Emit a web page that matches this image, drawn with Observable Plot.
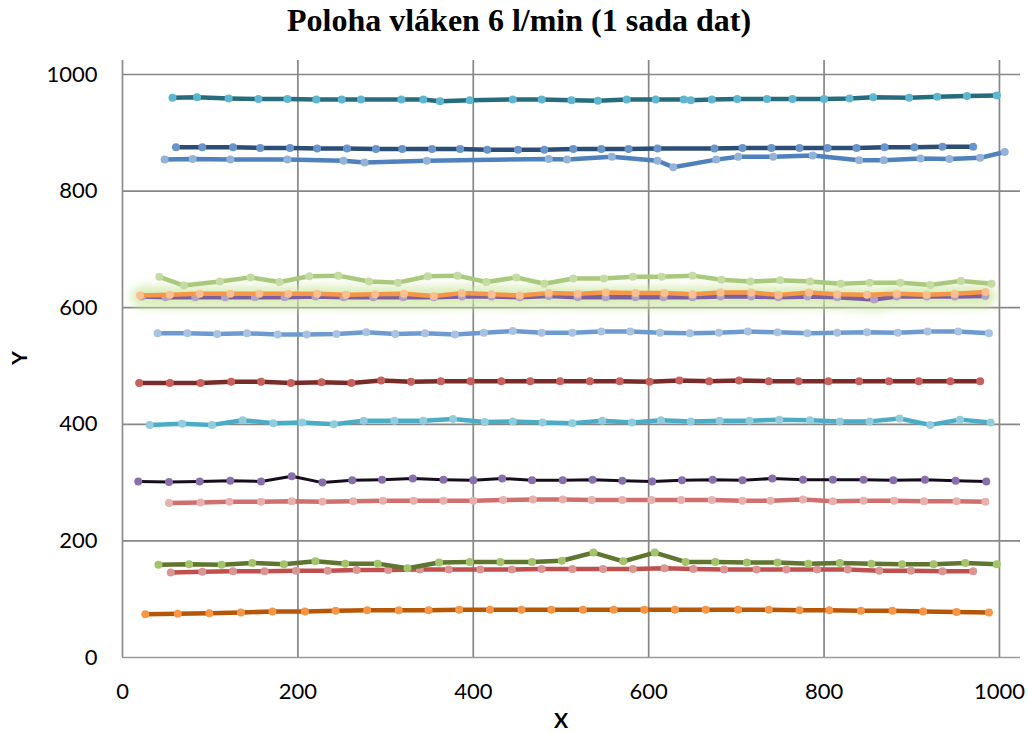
<!DOCTYPE html>
<html>
<head>
<meta charset="utf-8">
<script src="https://cdn.jsdelivr.net/npm/d3@7"></script>
<script src="https://cdn.jsdelivr.net/npm/@observablehq/plot@0.6"></script>
<style>
  body { margin: 0; background: #fff; }
  #title { height: 48px; box-sizing: border-box; padding-top: 4px; padding-left: 10px; line-height: 32px;
           text-align: center; font-family: "Liberation Serif", "Times New Roman", serif; font-weight: bold; font-size: 32px; color: #000; }
  #chart svg { display: block; }
</style>
</head>
<body>
<div id="title">Poloha vláken 6 l/min (1 sada dat)</div>
<div id="chart"></div>
<script>
// ---- data ----
const xTicks = [0, 200, 400, 600, 800, 1000];
const yTicks = [0, 200, 400, 600, 800, 1000];

const s1x = [57,85,121,155,188,221,250,272,318,343,362,396,445,478,512,542,575,608,640,648,672,701,735,764,800,829,856,897,929,963,997];
const s1y = [960,961,959,958,958,957,957,957,957,957,954,956,957,957,956,955,957,957,957,956,957,958,958,958,958,959,961,960,962,963,964];

const s2x = [61,91,126,157,191,222,256,289,319,353,385,416,451,481,514,546,577,610,675,707,740,772,804,837,869,903,935,970];
const s2y = [875,875,875,874,874,873,873,872,872,872,872,871,871,871,872,872,872,873,873,874,874,874,874,874,875,875,876,876];

const s3x = [48,80,123,188,252,276,347,486,507,558,610,628,677,702,742,787,840,868,910,943,978,1006];
const s3y = [854,855,854,854,852,849,852,855,854,859,852,841,854,859,859,861,853,853,856,855,857,867];

const s4x = [42,70,111,146,179,213,246,281,314,348,382,415,449,481,514,549,582,615,650,683,716,750,784,819,852,887,921,956,991];
const s4y = [653,638,645,652,644,654,655,645,643,654,655,644,652,641,650,650,653,653,655,648,645,647,645,641,643,643,639,646,641];

const s5x = [20,54,88,123,156,189,222,255,288,321,355,387,421,453,486,519,551,585,618,650,682,717,748,783,815,849,883,917,949,984];
const s5y = [621,622,624,624,624,624,624,622,623,624,620,625,623,621,625,624,626,625,625,623,626,626,622,626,623,622,624,622,624,627];

const s6x = [22,49,83,117,151,185,220,252,286,320,355,387,421,453,486,519,551,585,617,650,682,717,748,781,815,857,883,917,949,984];
const s6y = [619,618,618,618,618,618,619,618,618,618,618,619,619,618,620,618,618,618,618,618,619,619,618,619,618,614,619,619,619,620];

const s7x = [40,74,108,142,177,210,244,278,311,345,379,412,445,478,513,546,579,613,647,680,713,747,781,815,849,884,918,953,988];
const s7y = [556,556,555,556,554,554,555,558,555,556,554,557,560,557,557,559,559,557,556,557,559,558,556,557,558,557,559,559,556];

const s8x = [19,54,89,124,158,192,227,261,295,329,363,397,432,465,499,533,567,601,635,669,703,737,771,805,840,874,908,944,978];
const s8y = [471,471,471,473,473,471,472,471,475,473,474,474,474,474,474,474,474,473,475,474,475,474,474,474,474,474,474,474,474];

const s9x = [31,68,102,137,172,205,241,275,310,343,377,413,445,479,513,547,581,614,648,681,715,749,784,818,852,886,921,955,990];
const s9y = [399,401,399,407,402,403,400,406,406,406,409,404,405,403,402,406,403,407,405,406,406,408,407,405,405,410,399,408,403];

const s10x = [18,53,88,123,158,193,228,262,296,331,366,400,433,467,502,536,570,604,638,673,707,741,776,810,845,879,915,950,985];
const s10y = [302,301,302,303,302,311,300,304,305,307,305,304,307,304,304,305,303,302,304,305,304,307,305,305,305,304,305,303,302];

const s11x = [53,89,122,158,193,228,263,297,332,366,400,434,468,502,535,570,603,637,672,707,739,776,810,845,880,914,951,984];
const s11y = [265,266,267,267,268,267,268,269,269,269,269,270,271,271,270,270,270,270,270,269,269,271,268,269,269,268,268,267];

const s12x = [41,76,113,148,184,220,254,291,325,361,396,431,467,501,537,571,607,642,676,712,747,782,818,854,889,925,961,997];
const s12y = [159,160,159,162,160,165,161,161,153,163,164,164,164,166,180,165,180,164,164,163,163,161,162,161,160,160,162,160];

const s13x = [55,91,126,162,198,234,267,303,339,372,408,444,478,513,548,582,618,651,686,723,757,792,827,863,899,935,970];
const s13y = [146,147,148,148,149,149,150,150,151,151,151,151,152,152,152,152,153,152,151,151,151,151,151,149,149,148,148];

const s14x = [26,63,99,135,171,208,243,279,315,349,384,419,455,489,525,560,595,630,665,702,737,772,806,842,878,913,951,988];
const s14y = [74,75,76,77,79,79,80,81,81,81,82,82,82,82,82,82,82,82,82,82,82,81,81,80,80,79,78,77];

// ---- styles (drawing order: bottom first) ----
const styles = [
  {x: s14x, y: s14y, line: "#b65708", dot: "#f79646", w: 4.5},
  {x: s13x, y: s13y, line: "#c0504d", dot: "#d99694", w: 4.5},
  {x: s12x, y: s12y, line: "#5f7530", dot: "#a3c46b", w: 4.5},
  {x: s11x, y: s11y, line: "#d0706e", dot: "#e6b0ae", w: 4.5},
  {x: s10x, y: s10y, line: "#150d1c", dot: "#8a6fae", w: 3},
  {x: s9x,  y: s9y,  line: "#4bacc6", dot: "#93cddd", w: 4.5},
  {x: s8x,  y: s8y,  line: "#772c2a", dot: "#c9605c", w: 4.5},
  {x: s7x,  y: s7y,  line: "#6d9bd1", dot: "#a9c2e1", w: 4.5},
  {x: s6x,  y: s6y,  line: "#7d60a0", dot: "#b3a2c7", w: 4.5},
  {x: s5x,  y: s5y,  line: "#f79646", dot: "#fac090", w: 4.5},
  {x: s4x,  y: s4y,  line: "#a9c97c", dot: "#c5dba3", w: 4.5},
  {x: s3x,  y: s3y,  line: "#4f81bd", dot: "#95b3d7", w: 4.5},
  {x: s2x,  y: s2y,  line: "#2c4d75", dot: "#6a95cb", w: 4.5},
  {x: s1x,  y: s1y,  line: "#276c7d", dot: "#5fb6d0", w: 4.5}
];

const toRows = (xs, ys) => xs.map((x, i) => ({x, y: ys[i]}));
const glowRows = toRows(s6x, s6y);
const GLOW = "#cde7a3";

const marks = [
  Plot.ruleX(xTicks.slice(1), {stroke: "#878787", strokeWidth: 1.7}),
  Plot.ruleY(yTicks.slice(1), {stroke: "#878787", strokeWidth: 1.7}),
  Plot.ruleX([0], {stroke: "#8c8c8c", strokeWidth: 1.7}),
  Plot.ruleY([0], {stroke: "#9a9a9a", strokeWidth: 1.7}),
  Plot.line(glowRows, {x: "x", y: "y", stroke: GLOW, strokeWidth: 22, strokeOpacity: 0.75})
];
for (const s of styles) {
  const rows = toRows(s.x, s.y);
  marks.push(Plot.line(rows, {x: "x", y: "y", stroke: s.line, strokeWidth: s.w, strokeLinejoin: "round"}));
  marks.push(Plot.dot(rows, {x: "x", y: "y", r: 4, fill: s.dot, stroke: "none"}));
}

const chart = Plot.plot({
  width: 1028,
  height: 685,
  marginTop: 12,
  marginLeft: 122,
  marginRight: 8,
  marginBottom: 76,
  style: {fontFamily: "Lato, 'Open Sans', sans-serif", fontSize: "22px", color: "#000", background: "#fff"},
  x: {domain: [0, 1024], ticks: xTicks, tickSize: 0, tickPadding: 26, label: null, tickFormat: d => String(d)},
  y: {domain: [0, 1024], ticks: yTicks, tickSize: 0, tickPadding: 25, label: null, tickFormat: d => String(d)},
  marks
});

document.getElementById("chart").appendChild(chart);

const svg = d3.select(chart);
svg.selectAll("g").filter(function () {
  return this.getAttribute("stroke") === GLOW || d3.select(this).selectAll(`path[stroke="${GLOW}"]`).size() > 0 && !this.querySelector("g");
}).style("filter", "blur(5px)");

svg.append("text")
  .attr("x", 561).attr("y", 680)
  .attr("text-anchor", "middle")
  .style("font-family", "Lato, 'Open Sans', sans-serif")
  .style("font-weight", "bold").style("font-size", "21px")
  .text("X");
svg.append("text")
  .attr("transform", "translate(27,310) rotate(-90)")
  .attr("text-anchor", "middle")
  .style("font-family", "Lato, 'Open Sans', sans-serif")
  .style("font-weight", "bold").style("font-size", "21px")
  .text("Y");
</script>
</body>
</html>
